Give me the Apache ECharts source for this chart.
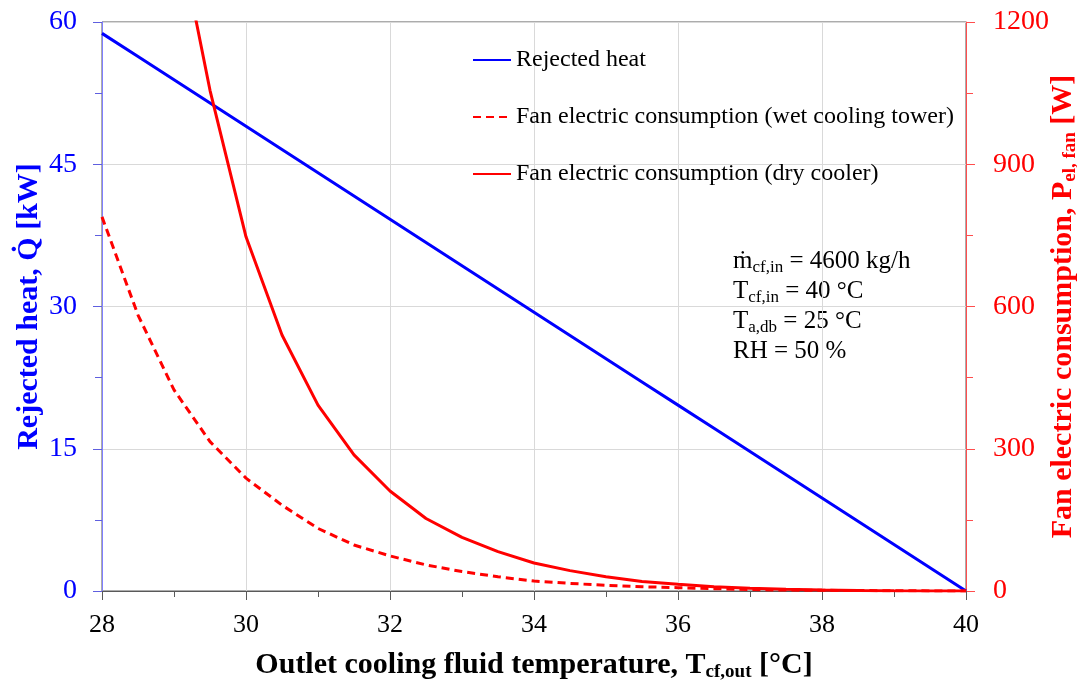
<!DOCTYPE html>
<html>
<head>
<meta charset="utf-8">
<script src="https://cdn.jsdelivr.net/npm/echarts@6/dist/echarts.min.js"></script>
<style>
  html, body { margin: 0; padding: 0; background: #fff; }
  #chart { width: 1077px; height: 682px; }
</style>
</head>
<body>
<div id="chart"></div>
<script>
// Outlet cooling fluid temperature [°C]
const temps = [28, 28.5, 29, 29.5, 30, 30.5, 31, 31.5, 32, 32.5, 33, 33.5, 34, 34.5, 35, 35.5, 36, 36.5, 37, 37.5, 38, 38.5, 39, 39.5, 40];
// Rejected heat [kW]
const rejectedHeat = [58.8, 56.35, 53.9, 51.45, 49.0, 46.55, 44.1, 41.65, 39.2, 36.75, 34.3, 31.85, 29.4, 26.95, 24.5, 22.05, 19.6, 17.15, 14.7, 12.25, 9.8, 7.35, 4.9, 2.45, 0];
// Fan electric consumption, wet cooling tower [W]
const fanWet = [789, 582, 424, 315, 238, 181, 132, 97, 74, 55, 41, 30, 21, 16, 12, 9, 7, 5, 3, 2, 1.5, 1, 0.5, 0.2, 0];
// Fan electric consumption, dry cooler [W]
const fanDry = [null, null, 1435, 1056, 747, 540, 392, 287, 211, 153, 113, 83, 59, 43, 30, 20, 14, 9, 6, 3.5, 2, 1, 0.5, 0.2, 0];

const leftTicks = { min: 0, max: 60, interval: 15 };
const rightTicks = { min: 0, max: 1200, interval: 300 };
const xTicks = { min: 28, max: 40, interval: 2 };

const seriesNames = ['Rejected heat', 'Fan electric consumption (wet cooling tower)', 'Fan electric consumption (dry cooler)'];

const FONT = 'Liberation Serif';

function pairs(xs, ys) { return xs.map((x, i) => [x, ys[i]]); }

const chart = echarts.init(document.getElementById('chart'), null, { renderer: 'canvas' });

const option = {
  animation: false,
  backgroundColor: '#ffffff',
  grid: {
    left: 102, right: 111, top: 22, bottom: 91,
    outerBoundsMode: 'none', containLabel: false,
    show: true, borderColor: '#595959', borderWidth: 1, backgroundColor: 'transparent'
  },
  legend: {
    data: seriesNames,
    orient: 'vertical',
    left: 467,
    top: 43,
    itemWidth: 38,
    itemHeight: 14,
    itemGap: 33,
    itemStyle: { opacity: 0 },
    textStyle: { fontFamily: FONT, fontSize: 24, color: '#000' }
  },
  xAxis: {
    type: 'value',
    min: xTicks.min, max: xTicks.max, interval: xTicks.interval,
    name: '{b|Outlet cooling fluid temperature, T}{s|cf,out}{b| [°C]}',
    nameLocation: 'middle',
    nameGap: 57,
    nameMoveOverlap: false,
    nameTextStyle: {
      rich: {
        b: { fontFamily: FONT, fontWeight: 'bold', fontSize: 30, color: '#000' },
        s: { fontFamily: FONT, fontWeight: 'bold', fontSize: 19, color: '#000', padding: [15, 0, 0, 0] }
      }
    },
    axisLine: { show: true, lineStyle: { color: '#595959', width: 1 } },
    axisTick: { show: true, inside: false, length: 9, lineStyle: { color: '#595959' } },
    minorTick: { show: true, splitNumber: 2, length: 6, lineStyle: { color: '#595959' } },
    splitLine: { show: true, lineStyle: { color: '#d9d9d9', width: 1 } },
    axisLabel: { fontFamily: FONT, fontSize: 26, color: '#000', margin: 21 }
  },
  yAxis: [
    {
      type: 'value', position: 'left',
      min: leftTicks.min, max: leftTicks.max, interval: leftTicks.interval,
      name: 'Rejected heat, Q\u0307 [kW]',
      nameLocation: 'middle', nameRotate: 90, nameGap: 58,
      nameMoveOverlap: false,
      nameTextStyle: { fontFamily: FONT, fontWeight: 'bold', fontSize: 30, color: '#0000ff' },
      axisLine: { show: true, lineStyle: { color: '#7f7fff', width: 1 } },
      axisTick: { show: true, inside: false, length: 9, lineStyle: { color: '#5f5fdf' } },
      minorTick: { show: true, splitNumber: 2, length: 7, lineStyle: { color: '#5f5fdf' } },
      splitLine: { show: true, lineStyle: { color: '#d9d9d9', width: 1 } },
      axisLabel: { fontFamily: FONT, fontSize: 28, color: '#0000ff', margin: 25 }
    },
    {
      type: 'value', position: 'right',
      min: rightTicks.min, max: rightTicks.max, interval: rightTicks.interval,
      name: '{b|Fan electric consumption, P}{s|el, fan}{b| [W]}',
      nameLocation: 'middle', nameRotate: 90, nameGap: 80,
      nameMoveOverlap: false,
      nameTextStyle: {
        rich: {
          b: { fontFamily: FONT, fontWeight: 'bold', fontSize: 30, color: '#ff0000' },
          s: { fontFamily: FONT, fontWeight: 'bold', fontSize: 19, color: '#ff0000', padding: [15, 0, 0, 0] }
        }
      },
      axisLine: { show: true, lineStyle: { color: '#ff4d4d', width: 1 } },
      axisTick: { show: true, inside: false, length: 9, lineStyle: { color: '#ff4d4d' } },
      minorTick: { show: true, splitNumber: 2, length: 7, lineStyle: { color: '#ff4d4d' } },
      splitLine: { show: false },
      axisLabel: { fontFamily: FONT, fontSize: 28, color: '#ff0000', margin: 27, formatter: (v) => String(v) }
    }
  ],
  graphic: [
    {
      type: 'text',
      left: 733,
      top: 249,
      style: {
        text: '{m|\u1E41}{s|cf,in}{m| = 4600 kg/h}\n{m|T}{s|cf,in}{m| = 40 °C}\n{m|T}{s|a,db}{m| = 25 °C}\n{m|RH = 50 %}',
        rich: {
          m: { fontFamily: FONT, fontSize: 25, color: '#000', lineHeight: 30 },
          s: { fontFamily: FONT, fontSize: 17, color: '#000', padding: [12, 0, 0, 0] }
        }
      }
    }
  ],
  series: [
    {
      name: seriesNames[0], type: 'line', xAxisIndex: 0, yAxisIndex: 0,
      data: pairs(temps, rejectedHeat), showSymbol: false, symbol: 'none',
      lineStyle: { color: '#0000ff', width: 3 }, itemStyle: { color: '#0000ff' }
    },
    {
      name: seriesNames[1], type: 'line', xAxisIndex: 0, yAxisIndex: 1,
      data: pairs(temps, fanWet), showSymbol: false, symbol: 'none',
      lineStyle: { color: '#ff0000', width: 3, type: [8, 5] }, itemStyle: { color: '#ff0000' }
    },
    {
      name: seriesNames[2], type: 'line', xAxisIndex: 0, yAxisIndex: 1,
      data: pairs(temps, fanDry), showSymbol: false, symbol: 'none', clip: true,
      lineStyle: { color: '#ff0000', width: 3 }, itemStyle: { color: '#ff0000' }
    }
  ]
};

chart.setOption(option);
</script>
</body>
</html>
